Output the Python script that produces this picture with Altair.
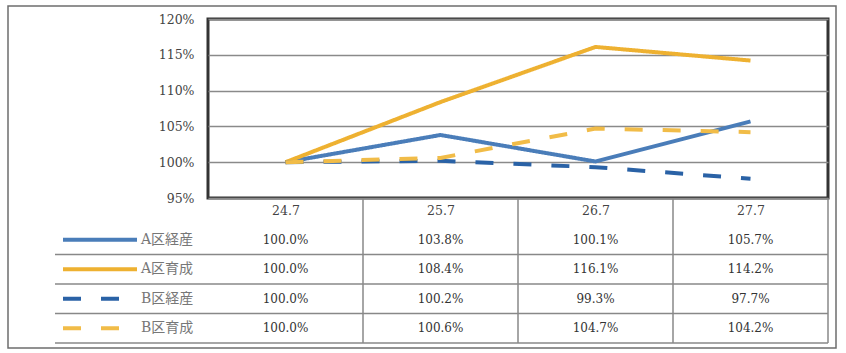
import altair as alt
import pandas as pd

periods = ["24.7", "25.7", "26.7", "27.7"]
series = ["A区経産", "A区育成", "B区経産", "B区育成"]
a_keisan = [100.0, 103.8, 100.1, 105.7]
a_ikusei = [100.0, 108.4, 116.1, 114.2]
b_keisan = [100.0, 100.2, 99.3, 97.7]
b_ikusei = [100.0, 100.6, 104.7, 104.2]

colors = ["#4A7DB9", "#EEB131", "#2A62A6", "#F1BC48"]
dashes = [[1, 0], [1, 0], [18, 20], [18, 20]]

rows = []
for name, vals in zip(series, [a_keisan, a_ikusei, b_keisan, b_ikusei]):
    for p, v in zip(periods, vals):
        rows.append({"series": name, "period": p, "value": v / 100.0,
                     "label": f"{v:.1f}%"})
df = pd.DataFrame(rows)
df_series = pd.DataFrame({"series": series})
df_periods = pd.DataFrame({"period": periods})
df_one = pd.DataFrame({"k": [0]})

W, H = 620, 179
SERIF = "DejaVu Serif, Noto Sans CJK JP"

x_enc = alt.X("period:N", sort=periods,
              scale=alt.Scale(type="point", padding=0.5, domain=periods),
              axis=alt.Axis(title=None, domain=False, ticks=False, grid=False,
                            labelPadding=6, labelFontSize=12.5, labelFont=SERIF,
                            labelColor="#444", labelAngle=0))
color_enc = alt.Color("series:N", sort=series,
                      scale=alt.Scale(domain=series, range=colors), legend=None)
dash_enc = alt.StrokeDash("series:N", sort=series,
                          scale=alt.Scale(domain=series, range=dashes), legend=None)

row_scale = alt.Scale(type="band", domain=series, range=[206, 324],
                      paddingInner=0, paddingOuter=0)

lines = alt.Chart(df).mark_line(strokeWidth=4).encode(
    x=x_enc,
    y=alt.Y("value:Q",
            scale=alt.Scale(domain=[0.95, 1.20], nice=False, zero=False),
            axis=alt.Axis(title=None, format=".0%",
                          values=[0.95, 1.0, 1.05, 1.10, 1.15, 1.20],
                          domain=False, ticks=False, grid=True,
                          gridColor="#8a8a8a", gridWidth=1.5,
                          labelPadding=14, labelFontSize=12.5, labelFont=SERIF,
                          labelColor="#444")),
    color=color_enc,
    strokeDash=dash_enc,
    detail="series:N",
)

cells = alt.Chart(df).mark_text(fontSize=12, font=SERIF, color="#333").encode(
    x=x_enc,
    y=alt.Y("series:N", sort=series, scale=row_scale, axis=None, bandPosition=0.5),
    text="label:N",
)

seps = alt.Chart(df_series).mark_rule(color="#888", strokeWidth=1.5).encode(
    x=alt.value(-153), x2=alt.value(W),
    y=alt.Y("series:N", sort=series, scale=row_scale, axis=None, bandPosition=1),
)

vlines = alt.Chart(df_periods).mark_rule(color="#888", strokeWidth=1.5,
                                         xOffset=W / 8).encode(
    x=x_enc,
    y=alt.value(H), y2=alt.value(324),
)

keys = alt.Chart(df_series).mark_rule(strokeWidth=4).encode(
    x=alt.value(-145), x2=alt.value(-71),
    y=alt.Y("series:N", sort=series, scale=row_scale, axis=None, bandPosition=0.5),
    color=color_enc,
    strokeDash=dash_enc,
)

key_labels = alt.Chart(df_series).mark_text(
    align="left", fontSize=14, font=SERIF, color="#777").encode(
    x=alt.value(-67),
    y=alt.Y("series:N", sort=series, scale=row_scale, axis=None, bandPosition=0.5),
    text="series:N",
)

border = alt.Chart(df_one).mark_rect(fillOpacity=0, stroke="#6d6d6d",
                                     strokeWidth=1.5).encode(
    x=alt.value(-200), x2=alt.value(628), y=alt.value(-13), y2=alt.value(329),
)

chart = alt.layer(border, vlines, seps, lines, keys, key_labels, cells).resolve_scale(
    y="independent"
).properties(
    width=W, height=H,
    padding={"left": 208, "top": 19, "right": 18, "bottom": 155},
    autosize=alt.AutoSizeParams(type="none"),
    background="white",
).configure_view(stroke="#333", strokeWidth=3)

chart.save("out.html", embed_options={"renderer": "svg", "actions": False})
